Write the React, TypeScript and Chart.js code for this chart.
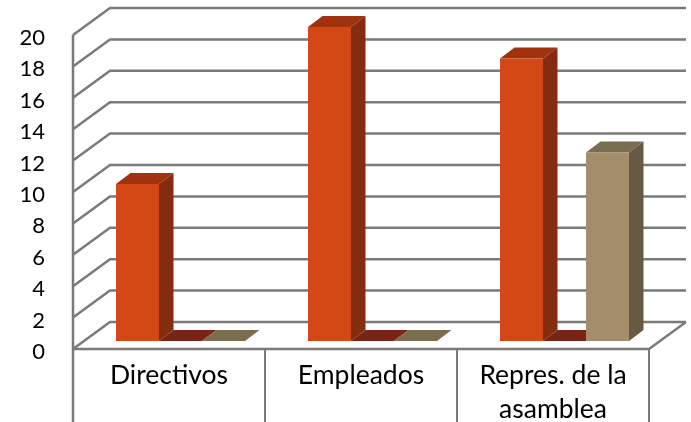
import React, { useEffect, useRef } from "react";
import { Chart, registerables } from "chart.js";

Chart.register(...registerables);

const categories: (string | string[])[] = ["Directivos", "Empleados", ["Repres. de la", "asamblea"]];
const serie1 = [10, 20, 18];
const serie2 = [0, 0, 0];
const serie3 = [0, 0, 12];
const frontColors = ["#D44815", "#A82A1C", "#A38D6B"];
const sideColors = ["#852C0E", "#6E1E14", "#665A44"];
const topColors = ["#A0320F", "#7A2317", "#7B6E50"];

const FONT = "Lato";
const GRID = "#7a7a7a";
// floor depth, measured from the plane of the bars
const FRONT_DX = -11.5, FRONT_DY = 8, BACK_DX = 25.5, BACK_DY = -19;
const BAR_DX = 14.5, BAR_DY = -11;

const box3d = {
  id: "box3d",
  beforeDatasetsDraw(chart: any) {
    const { ctx, chartArea: a, scales } = chart;
    const y = scales.y;
    const line = (pts: number[][], w = 2.5, color = GRID) => {
      ctx.beginPath();
      pts.forEach((p, i) => (i ? ctx.lineTo(p[0], p[1]) : ctx.moveTo(p[0], p[1])));
      ctx.lineWidth = w;
      ctx.strokeStyle = color;
      ctx.stroke();
    };
    ctx.save();
    const fl = a.left + FRONT_DX, fr = a.right + FRONT_DX;
    const bl = a.left + BACK_DX, br = a.right + BACK_DX;
    y.ticks.forEach((t: any) => {
      const py = y.getPixelForValue(t.value);
      line([[fl, py + FRONT_DY], [bl, py + BACK_DY], [br, py + BACK_DY]]);
    });
    const base = y.getPixelForValue(0);
    const top = y.getPixelForValue(20);
    const fy = base + FRONT_DY;
    line([[fl, top + FRONT_DY], [fl, chart.height]]);
    line([[fl, fy], [fr, fy], [br, base + BACK_DY]]);
    const n = categories.length;
    for (let i = 1; i <= n; i++) {
      const x = fl + ((fr - fl) * i) / n;
      line([[x, fy], [x, chart.height]], 2);
    }
    chart.data.datasets.forEach((_: any, di: number) => {
      chart.getDatasetMeta(di).data.forEach((bar: any) => {
        const l = bar.x - bar.width / 2, r = bar.x + bar.width / 2;
        const t = bar.y, b = bar.base;
        ctx.fillStyle = topColors[di];
        ctx.beginPath();
        ctx.moveTo(l, t);
        ctx.lineTo(r, t);
        ctx.lineTo(r + BAR_DX, t + BAR_DY);
        ctx.lineTo(l + BAR_DX, t + BAR_DY);
        ctx.closePath();
        ctx.fill();
        if (b - t > 0.5) {
          ctx.fillStyle = sideColors[di];
          ctx.beginPath();
          ctx.moveTo(r, t);
          ctx.lineTo(r + BAR_DX, t + BAR_DY);
          ctx.lineTo(r + BAR_DX, b + BAR_DY);
          ctx.lineTo(r, b);
          ctx.closePath();
          ctx.fill();
        }
      });
    });
    ctx.restore();
  },
};

export default function App() {
  const ref = useRef<HTMLCanvasElement>(null);
  useEffect(() => {
    const chart = new Chart(ref.current!, {
      type: "bar",
      data: {
        labels: categories,
        datasets: [
          { label: "Serie 1", data: serie1, backgroundColor: frontColors[0] },
          { label: "Serie 2", data: serie2, backgroundColor: frontColors[1] },
          { label: "Serie 3", data: serie3, backgroundColor: frontColors[2] },
        ],
      },
      plugins: [box3d],
      options: {
        responsive: false,
        animation: false,
        layout: { padding: { left: 0, right: 30.5, top: 27, bottom: 0 } },
        plugins: { legend: { display: false }, tooltip: { enabled: false } },
        datasets: { bar: { barPercentage: 1, categoryPercentage: 129 / 192, borderWidth: 0 } },
        scales: {
          x: {
            grid: { display: false, drawTicks: false },
            border: { display: false },
            afterFit: (s: any) => { s.height = 81; s.paddingLeft = 0; s.paddingRight = 0; },
            ticks: {
              color: "#000000",
              font: { family: FONT, size: 26.5, lineHeight: 1.29 },
              padding: 17,
              labelOffset: -11.5,
              maxRotation: 0,
              autoSkip: false,
            },
          },
          y: {
            min: 0,
            max: 20,
            grid: { display: false, drawTicks: false },
            border: { display: false },
            afterFit: (s: any) => { s.width = 84.5; s.paddingTop = 0; s.paddingBottom = 0; },
            ticks: {
              stepSize: 2,
              autoSkip: false,
              color: "#000000",
              font: { family: FONT, size: 22 },
              padding: 39.5,
              labelOffset: 11,
            },
          },
        },
      } as any,
    });
    return () => chart.destroy();
  }, []);
  return (
    <div style={{ position: "absolute", left: 0, top: 0, width: 691, height: 422 }}>
      <canvas ref={ref} width={691} height={422} style={{ display: "block" }} />
    </div>
  );
}
